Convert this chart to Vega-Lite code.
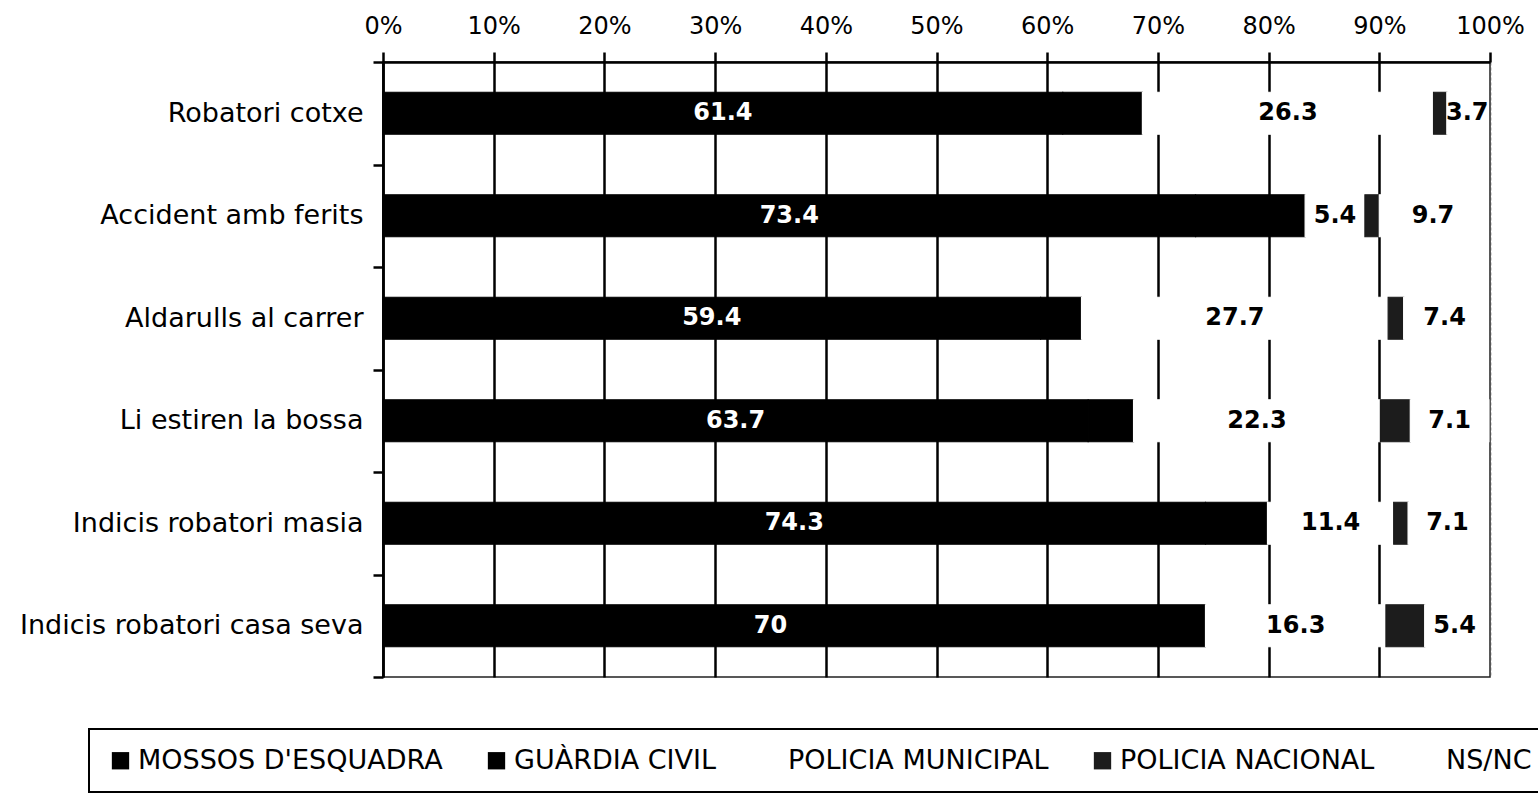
{
  "$schema": "https://vega.github.io/schema/vega-lite/v6.json",
  "width": 1107,
  "height": 615,
  "autosize": {"type": "none"},
  "padding": {"left": 383, "top": 62, "right": 48, "bottom": 119},
  "background": "white",
  "config": {
    "font": "DejaVu Sans",
    "view": {"stroke": "#222", "strokeWidth": 1.5}
  },
  "data": {
    "values": [
      {"category": "Robatori cotxe", "series": "MOSSOS D'ESQUADRA", "pct": 61.4},
      {"category": "Robatori cotxe", "series": "GUÀRDIA CIVIL", "pct": 7.2},
      {"category": "Robatori cotxe", "series": "POLICIA MUNICIPAL", "pct": 26.3},
      {"category": "Robatori cotxe", "series": "POLICIA NACIONAL", "pct": 1.2},
      {"category": "Robatori cotxe", "series": "NS/NC", "pct": 3.7},
      {"category": "Accident amb ferits", "series": "MOSSOS D'ESQUADRA", "pct": 73.4},
      {"category": "Accident amb ferits", "series": "GUÀRDIA CIVIL", "pct": 9.9},
      {"category": "Accident amb ferits", "series": "POLICIA MUNICIPAL", "pct": 5.4},
      {"category": "Accident amb ferits", "series": "POLICIA NACIONAL", "pct": 1.3},
      {"category": "Accident amb ferits", "series": "NS/NC", "pct": 9.7},
      {"category": "Aldarulls al carrer", "series": "MOSSOS D'ESQUADRA", "pct": 59.4},
      {"category": "Aldarulls al carrer", "series": "GUÀRDIA CIVIL", "pct": 3.7},
      {"category": "Aldarulls al carrer", "series": "POLICIA MUNICIPAL", "pct": 27.7},
      {"category": "Aldarulls al carrer", "series": "POLICIA NACIONAL", "pct": 1.4},
      {"category": "Aldarulls al carrer", "series": "NS/NC", "pct": 7.4},
      {"category": "Li estiren la bossa", "series": "MOSSOS D'ESQUADRA", "pct": 63.7},
      {"category": "Li estiren la bossa", "series": "GUÀRDIA CIVIL", "pct": 4.1},
      {"category": "Li estiren la bossa", "series": "POLICIA MUNICIPAL", "pct": 22.3},
      {"category": "Li estiren la bossa", "series": "POLICIA NACIONAL", "pct": 2.7},
      {"category": "Li estiren la bossa", "series": "NS/NC", "pct": 7.1},
      {"category": "Indicis robatori masia", "series": "MOSSOS D'ESQUADRA", "pct": 74.3},
      {"category": "Indicis robatori masia", "series": "GUÀRDIA CIVIL", "pct": 5.6},
      {"category": "Indicis robatori masia", "series": "POLICIA MUNICIPAL", "pct": 11.4},
      {"category": "Indicis robatori masia", "series": "POLICIA NACIONAL", "pct": 1.3},
      {"category": "Indicis robatori masia", "series": "NS/NC", "pct": 7.1},
      {"category": "Indicis robatori casa seva", "series": "MOSSOS D'ESQUADRA", "pct": 70},
      {"category": "Indicis robatori casa seva", "series": "GUÀRDIA CIVIL", "pct": 4.3},
      {"category": "Indicis robatori casa seva", "series": "POLICIA MUNICIPAL", "pct": 16.3},
      {"category": "Indicis robatori casa seva", "series": "POLICIA NACIONAL", "pct": 3.5},
      {"category": "Indicis robatori casa seva", "series": "NS/NC", "pct": 5.4}
    ]
  },
  "transform": [
    {"stack": "pct", "groupby": ["category"], "as": ["x0", "x1"]}
  ],
  "layer": [
    {
      "mark": {"type": "bar", "height": {"band": 0.41}, "strokeWidth": 1.2},
      "encoding": {
        "y": {
          "field": "category",
          "type": "nominal",
          "sort": null,
          "scale": {"paddingInner": 0, "paddingOuter": 0},
          "axis": {
            "title": null,
            "labelFontSize": 27,
            "labelColor": "black",
            "labelPadding": 10,
            "labelLimit": 500,
            "tickBand": "extent",
            "tickSize": 10,
            "tickWidth": 2.5,
            "tickColor": "black",
            "domainColor": "black",
            "domainWidth": 2.5,
            "grid": false
          }
        },
        "x": {
          "field": "x0",
          "type": "quantitative",
          "scale": {"domain": [0, 100], "nice": false},
          "axis": {
            "orient": "top",
            "title": null,
            "values": [0, 10, 20, 30, 40, 50, 60, 70, 80, 90, 100],
            "labelExpr": "datum.value + '%'",
            "labelFontSize": 24,
            "labelColor": "black",
            "labelPadding": 14,
            "labelFlush": false,
            "tickSize": 10,
            "tickWidth": 2.5,
            "tickColor": "black",
            "domainColor": "black",
            "domainWidth": 2.5,
            "grid": true,
            "gridColor": {"condition": {"test": "datum.value === 100", "value": "#555"}, "value": "black"},
            "gridWidth": {"condition": {"test": "datum.value === 100", "value": 1.5}, "value": 2.5},
            "gridDash": {"condition": {"test": "datum.value === 100", "value": [3, 2]}, "value": []},
            "gridOpacity": 1
          }
        },
        "x2": {"field": "x1"},
        "stroke": {
          "field": "series",
          "type": "nominal",
          "scale": {
            "domain": ["MOSSOS D'ESQUADRA", "GUÀRDIA CIVIL", "POLICIA MUNICIPAL", "POLICIA NACIONAL", "NS/NC"],
            "range": ["#000000", "#000000", "#ffffff", "#1c1c1c", "#ffffff"]
          },
          "legend": null
        },
        "color": {
          "field": "series",
          "type": "nominal",
          "scale": {
            "domain": ["MOSSOS D'ESQUADRA", "GUÀRDIA CIVIL", "POLICIA MUNICIPAL", "POLICIA NACIONAL", "NS/NC"],
            "range": ["#000000", "#000000", "#ffffff", "#1c1c1c", "#ffffff"]
          },
          "legend": {
            "title": null,
            "orient": "none",
            "legendX": -294,
            "legendY": 667,
            "direction": "horizontal",
            "columns": 5,
            "columnPadding": 40,
            "padding": 18,
            "strokeColor": "black",
            "symbolType": "square",
            "symbolSize": 300,
            "symbolStrokeWidth": 0,
            "symbolOpacity": 1,
            "labelFontSize": 27,
            "labelColor": "black",
            "labelOffset": 4,
            "labelLimit": 1000,
            "encode": {"legend": {"update": {"strokeWidth": {"value": 2}}}}
          }
        }
      }
    },
    {
      "transform": [
        {"filter": "datum.series === 'MOSSOS D\\'ESQUADRA' || datum.series === 'POLICIA MUNICIPAL' || datum.series === 'NS/NC'"},
        {"fold": ["x0", "x1"], "as": ["edge", "pos"]}
      ],
      "mark": {"type": "text", "fontSize": 24, "fontWeight": "bold", "baseline": "middle", "align": "center"},
      "encoding": {
        "y": {"field": "category", "type": "nominal", "sort": null},
        "x": {"field": "pos", "type": "quantitative", "aggregate": "mean"},
        "detail": {"field": "series", "type": "nominal"},
        "text": {"field": "pct", "type": "quantitative"},
        "color": {
          "condition": {"test": "datum.series === 'MOSSOS D\\'ESQUADRA'", "value": "white"},
          "value": "black"
        }
      }
    }
  ]
}
